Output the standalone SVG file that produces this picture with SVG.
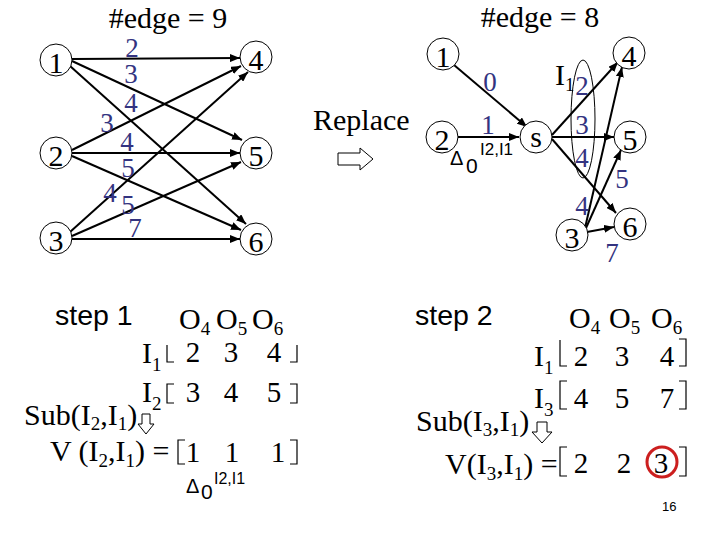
<svg xmlns="http://www.w3.org/2000/svg" width="720" height="540" viewBox="0 0 720 540">
<style>
.t{font-family:"Liberation Serif","Times New Roman",serif;font-size:30px;fill:#000}
.n{font-family:"Liberation Serif","Times New Roman",serif;font-size:30px;fill:#000;text-anchor:middle}
.l{font-family:"Liberation Serif","Times New Roman",serif;font-size:27px;fill:#333380;text-anchor:middle}
.m{font-family:"Liberation Serif","Times New Roman",serif;font-size:29px;fill:#000;text-anchor:middle}
.s{font-family:"Liberation Sans",Arial,sans-serif;fill:#000}
.sub{font-size:19px}
.c{fill:#fff;stroke:#000;stroke-width:1}
.e{stroke:#000;stroke-width:2;fill:none;marker-end:url(#ah)}
.br{fill:none;stroke:#000;stroke-width:1.2}
.ho{fill:#fff;stroke:#000;stroke-width:1}
</style>
<defs>
<marker id="ah" markerUnits="userSpaceOnUse" markerWidth="10" markerHeight="8" refX="10" refY="4" orient="auto">
<path d="M0,0 L10,4 L0,8 z" fill="#000"/>
</marker>
</defs>
<rect width="720" height="540" fill="#fff"/>

<!-- left graph -->
<text class="n" x="168" y="28">#edge = 9</text>
<g id="connectors-left">
<line class="e" x1="72" y1="59" x2="240" y2="58"/>
<line class="e" x1="72" y1="61" x2="242" y2="140"/>
<line class="e" x1="70" y1="66" x2="246" y2="224"/>
<line class="e" x1="72" y1="150" x2="241" y2="66"/>
<line class="e" x1="72" y1="153" x2="240" y2="153"/>
<line class="e" x1="72" y1="156" x2="241" y2="230"/>
<line class="e" x1="70" y1="232" x2="248" y2="72"/>
<line class="e" x1="72" y1="236" x2="241" y2="162"/>
<line class="e" x1="72" y1="239" x2="240" y2="239"/>
</g>
<g id="L1"><circle class="c" cx="56" cy="60" r="16"/><text class="n" x="56" y="73">1</text></g>
<g id="L2"><circle class="c" cx="56" cy="153" r="16"/><text class="n" x="56" y="166">2</text></g>
<g id="L3"><circle class="c" cx="56" cy="238" r="16"/><text class="n" x="56" y="251">3</text></g>
<g id="L4"><circle class="c" cx="256" cy="57" r="16"/><text class="n" x="256" y="70">4</text></g>
<g id="L5"><circle class="c" cx="256" cy="153" r="16"/><text class="n" x="256" y="166">5</text></g>
<g id="L6"><circle class="c" cx="256" cy="239" r="16"/><text class="n" x="256" y="252">6</text></g>
<g id="left-labels">
<text class="l" x="132" y="57">2</text>
<text class="l" x="131" y="83">3</text>
<text class="l" x="131" y="112">4</text>
<text class="l" x="107" y="132">3</text>
<text class="l" x="127" y="151">4</text>
<text class="l" x="128" y="177">5</text>
<text class="l" x="110" y="202">4</text>
<text class="l" x="128" y="214">5</text>
<text class="l" x="135" y="237">7</text>
</g>

<!-- replace -->
<text class="t" x="313" y="130">Replace</text>
<polygon class="ho" points="338,153 360,153 360,148 373,159 360,170 360,165 338,165"/>

<!-- right graph -->
<text class="n" x="540" y="27">#edge = 8</text>
<ellipse cx="583" cy="119" rx="12" ry="59" fill="none" stroke="#000" stroke-width="1"/>
<g id="connectors-right">
<line class="e" x1="454" y1="65" x2="527" y2="127"/>
<line class="e" x1="458" y1="137" x2="519" y2="137"/>
<line class="e" x1="552" y1="135" x2="618" y2="62"/>
<line class="e" x1="552" y1="137" x2="614" y2="137"/>
<line class="e" x1="552" y1="139" x2="616" y2="213"/>
<line class="e" x1="585" y1="228" x2="622" y2="67"/>
<line class="e" x1="586" y1="228" x2="621" y2="150"/>
<line class="e" x1="587" y1="232" x2="614" y2="227"/>
</g>
<g id="R1"><circle class="c" cx="443" cy="54" r="16"/><text class="n" x="443" y="67">1</text></g>
<g id="R2"><circle class="c" cx="442" cy="137" r="16"/><text class="n" x="442" y="150">2</text></g>
<g id="Rs"><circle class="c" cx="536" cy="137" r="16"/><text class="n" x="536" y="147">s</text></g>
<g id="R4"><circle class="c" cx="629" cy="53" r="16"/><text class="n" x="629" y="66">4</text></g>
<g id="R5"><circle class="c" cx="630" cy="137" r="16"/><text class="n" x="630" y="150">5</text></g>
<g id="R6"><circle class="c" cx="630" cy="224" r="16"/><text class="n" x="630" y="237">6</text></g>
<g id="R3"><circle class="c" cx="572" cy="235" r="16"/><text class="n" x="572" y="248">3</text></g>
<g id="right-labels">
<text class="l" x="490" y="91">0</text>
<text class="l" x="488" y="134">1</text>
<text class="l" x="582" y="95">2</text>
<text class="l" x="582" y="134">3</text>
<text class="l" x="582" y="167">4</text>
<text class="l" x="622" y="188">5</text>
<text class="l" x="582" y="215">4</text>
<text class="l" x="612" y="262">7</text>
<text class="t" x="555" y="85">I<tspan class="sub" dy="6">1</tspan></text>
<text class="s" x="450" y="165" font-size="20">Δ</text>
<text class="s" x="466" y="173" font-size="21">0</text>
<text class="s" x="480" y="155" font-size="17">I2,I1</text>
</g>

<!-- step 1 -->
<g id="step1">
<text class="s" x="55" y="325" font-size="28.5">step 1</text>
<text class="t" x="179" y="329">O<tspan class="sub" dy="6">4</tspan></text>
<text class="t" x="216" y="329">O<tspan class="sub" dy="6">5</tspan></text>
<text class="t" x="252" y="329">O<tspan class="sub" dy="6">6</tspan></text>
<text class="t" x="142" y="363">I<tspan class="sub" dy="8">1</tspan></text>
<path class="br" d="M174,362 H167 V345 M290,362 H297 V345"/>
<text class="m" x="193" y="362">2</text>
<text class="m" x="231" y="362">3</text>
<text class="m" x="274" y="362">4</text>
<text class="t" x="142" y="402">I<tspan class="sub" dy="8">2</tspan></text>
<path class="br" d="M174,384 H167 V403 H174 M290,384 H297 V403 H290"/>
<text class="m" x="193" y="402">3</text>
<text class="m" x="231" y="402">4</text>
<text class="m" x="274" y="402">5</text>
<text class="t" x="24" y="425">Sub(I<tspan class="sub" dy="5">2</tspan><tspan dy="-5">,I</tspan><tspan class="sub" dy="5">1</tspan><tspan dy="-5">)</tspan></text>
<polygon class="ho" points="142,414 150,414 150,424 154,424 146,434 138,424 142,424"/>
<text class="t" x="50" y="461">V (I<tspan class="sub" dy="6">2</tspan><tspan dy="-6">,I</tspan><tspan class="sub" dy="6">1</tspan><tspan dy="-6">) =</tspan></text>
<path class="br" d="M185,440 H178 V464 H185 M290,440 H297 V464 H290"/>
<text class="m" x="193" y="462">1</text>
<text class="m" x="232" y="462">1</text>
<text class="m" x="278" y="462">1</text>
<text class="s" x="186" y="493" font-size="20">Δ</text>
<text class="s" x="201" y="499" font-size="21">0</text>
<text class="s" x="214" y="484" font-size="16">I2,I1</text>
</g>

<!-- step 2 -->
<g id="step2">
<text class="s" x="415" y="325" font-size="28.5">step 2</text>
<text class="t" x="569" y="328">O<tspan class="sub" dy="6">4</tspan></text>
<text class="t" x="609" y="328">O<tspan class="sub" dy="6">5</tspan></text>
<text class="t" x="651" y="328">O<tspan class="sub" dy="6">6</tspan></text>
<text class="t" x="534" y="366">I<tspan class="sub" dy="8">1</tspan></text>
<path class="br" d="M567,366 H560 V340 M679,339 H686 V366 H679"/>
<text class="m" x="581" y="366">2</text>
<text class="m" x="622" y="366">3</text>
<text class="m" x="667" y="366">4</text>
<text class="t" x="534" y="408">I<tspan class="sub" dy="8">3</tspan></text>
<path class="br" d="M567,381 H560 V409 H567 M679,381 H686 V409 H679"/>
<text class="m" x="581" y="408">4</text>
<text class="m" x="622" y="408">5</text>
<text class="m" x="667" y="408">7</text>
<text class="t" x="416" y="431">Sub(I<tspan class="sub" dy="5">3</tspan><tspan dy="-5">,I</tspan><tspan class="sub" dy="5">1</tspan><tspan dy="-5">)</tspan></text>
<polygon class="ho" points="537,422 547,422 547,432 552,432 542,443 532,432 537,432"/>
<text class="t" x="445" y="474">V(I<tspan class="sub" dy="6">3</tspan><tspan dy="-6">,I</tspan><tspan class="sub" dy="6">1</tspan><tspan dy="-6">) =</tspan></text>
<path class="br" d="M567,447 H560 V476 H567 M679,447 H686 V476 H679"/>
<text class="m" x="581" y="473">2</text>
<text class="m" x="624" y="473">2</text>
<text class="m" x="661" y="473">3</text>
<circle cx="662" cy="462" r="15" fill="none" stroke="#cc1f1f" stroke-width="3"/>
<text class="s" x="662" y="511" font-size="13">16</text>
</g>
</svg>
